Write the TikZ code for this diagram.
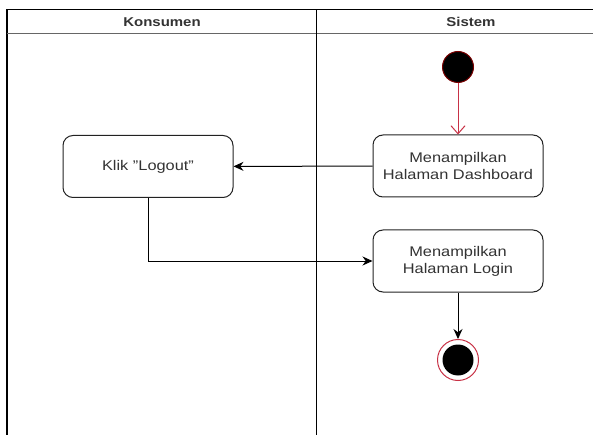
\documentclass[tikz,border=0pt]{standalone}
\usepackage{fontspec}
\setmainfont{Liberation Sans}[FakeStretch=1.17]
\usetikzlibrary{arrows.meta}
\definecolor{txt}{HTML}{333333}
\definecolor{edge}{HTML}{222222}
\definecolor{startred}{HTML}{7A0000}
\definecolor{flowred}{HTML}{C83246}
\begin{document}
\begin{tikzpicture}[x=1pt,y=-1pt,
  lane/.style={draw=black,line width=1.1pt},
  header/.style={font=\fontsize{12.8}{14}\selectfont\bfseries,text=txt},
  actbox/.style={draw=edge,line width=1pt,rounded corners=10pt,fill=white,
    minimum width=170pt,minimum height=62pt,align=center,text=txt,
    font=\fontsize{14}{17}\selectfont,inner sep=0pt},
  flow/.style={draw=black,line width=1pt,-{Stealth[length=10pt,width=9pt]}},
  redflow/.style={draw=flowred,line width=1pt,-{Straight Barb[length=8pt,width=14pt]}}]
\useasboundingbox (0,0) rectangle (593,435);
\fill[white] (0,0) rectangle (593,435);
% swimlanes
\draw[lane] (7,435) -- (7,9.5) -- (593,9.5);
\draw[draw=gray!80!black,line width=1.6pt] (7,33.5) -- (593,33.5);
\draw[lane] (316.5,9.5) -- (316.5,435);
\node[header] (hk) at (162,22) {Konsumen};
\node[header] (hs) at (471,22) {Sistem};
% nodes
\node[circle,fill=black,draw=startred,line width=1pt,minimum size=31pt,inner sep=0pt] (start) at (458,67) {};
\node[actbox] (dash) at (458,166) {Menampilkan\\Halaman Dashboard};
\node[actbox] (klik) at (148,166.5) {Klik \symbol{34}Logout\symbol{34}};
\node[actbox] (login) at (458,261) {Menampilkan\\Halaman Login};
\node[circle,draw=flowred,fill=white,line width=1pt,minimum size=41pt,inner sep=0pt] (end) at (458,360) {};
\node[circle,fill=black,minimum size=31pt,inner sep=0pt] (endin) at (end) {};
% connectors
\draw[redflow] (start) -- (dash);
\draw[flow] (dash) -- (klik);
\draw[flow] (klik.south) |- (login.west);
\draw[flow] (login) -- (end);
\end{tikzpicture}
\end{document}
